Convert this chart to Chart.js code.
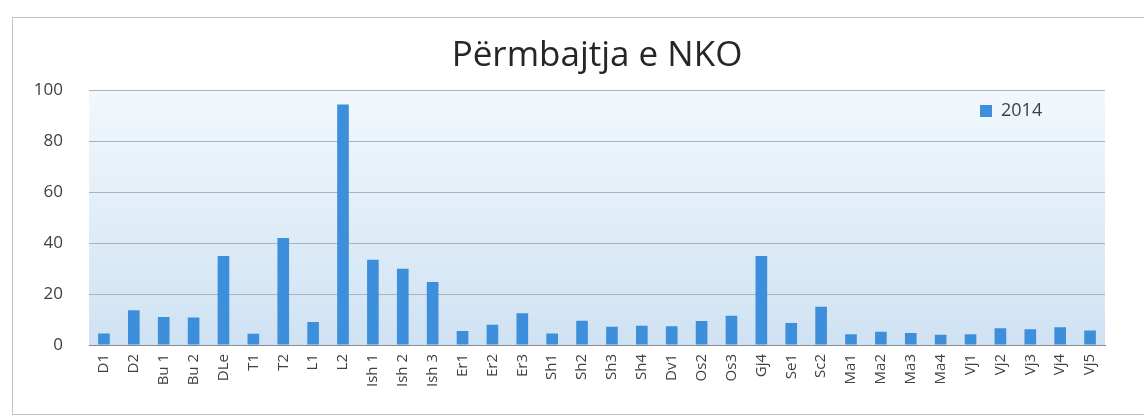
<!DOCTYPE html>
<html>
<head>
<meta charset="utf-8">
<script src="https://cdn.jsdelivr.net/npm/chart.js@4"></script>
<style>
html, body { margin: 0; padding: 0; background: #fff; }
#wrap { position: relative; width: 1144px; height: 419px; }
</style>
</head>
<body>
<div id="wrap"><canvas id="nko" width="1144" height="419"></canvas></div>
<script>
// ---------- DATA ----------
const categories = ['D1','D2','Bu 1','Bu 2','DLe','T1','T2','L1','L2','Ish 1','Ish 2','Ish 3',
  'Er1','Er2','Er3','Sh1','Sh2','Sh3','Sh4','Dv1','Os2','Os3','Gj4','Se1','Sc2',
  'Ma1','Ma2','Ma3','Ma4','Vj1','Vj2','Vj3','Vj4','Vj5'];
const values2014 = [4.5, 13.7, 11, 10.8, 35, 4.4, 42, 9, 94.5, 33.5, 30, 24.8,
  5.5, 8, 12.5, 4.5, 9.5, 7.2, 7.6, 7.4, 9.4, 11.5, 35, 8.6, 15,
  4.2, 5.2, 4.7, 4, 4.2, 6.6, 6.2, 7, 5.7];
const yTicks = [0, 20, 40, 60, 80, 100];
const seriesName = '2014';
const titleText = 'Përmbajtja e NKO';

// ---------- PLUGINS ----------
const frame = {
  id: 'frame',
  beforeDraw(chart) {
    const ctx = chart.ctx;
    const a = chart.chartArea;
    ctx.save();
    ctx.strokeStyle = '#c4c4c4';
    ctx.lineWidth = 1;
    ctx.strokeRect(12.5, 17.5, 1140, 397);
    const g = ctx.createLinearGradient(0, a.top, 0, a.bottom);
    g.addColorStop(0, '#f2f8fd');
    g.addColorStop(1, '#cfe2f3');
    ctx.fillStyle = g;
    ctx.fillRect(a.left, a.top, a.right - a.left, a.bottom - a.top);
    ctx.restore();
  }
};

// legend sits inside the plot, top right
const legendSpot = {
  id: 'legendSpot',
  afterLayout(chart) {
    const lg = chart.legend;
    if (!lg) return;
    const w = lg.width, h = lg.height;
    lg.left = 968; lg.right = 968 + w;
    lg.top = 90; lg.bottom = 90 + h;
  }
};

// ---------- CHART ----------
new Chart(document.getElementById('nko'), {
  type: 'bar',
  data: {
    labels: categories,
    datasets: [{
      label: seriesName,
      data: values2014,
      backgroundColor: '#3d8fdc',
      barPercentage: 0.39,
      categoryPercentage: 1
    }]
  },
  options: {
    responsive: false,
    animation: false,
    layout: { padding: { top: 20, left: 0, right: 39, bottom: 0 } },
    plugins: {
      title: {
        display: true,
        text: titleText,
        fullSize: false,
        color: '#262626',
        font: { family: 'Open Sans', size: 35, weight: 'normal', lineHeight: 1.1 },
        padding: { top: 17, bottom: 15 }
      },
      legend: {
        position: 'chartArea',
        align: 'start',
        labels: {
          color: '#404040',
          font: { family: 'Open Sans', size: 18 },
          boxWidth: 12,
          boxHeight: 12,
          padding: 12
        }
      },
      tooltip: { enabled: false }
    },
    scales: {
      x: {
        grid: { display: false, drawTicks: false },
        border: { display: true, color: '#8c8c8c', width: 1 },
        ticks: {
          color: '#404040',
          font: { family: 'Open Sans', size: 15 },
          minRotation: 90,
          maxRotation: 90,
          autoSkip: false,
          padding: 9
        },
        afterFit(scale) { scale.height = 74; }
      },
      y: {
        min: 0,
        max: 100,
        afterBuildTicks(scale) { scale.ticks = yTicks.map(v => ({ value: v })); },
        grid: { color: '#aab2ba', lineWidth: 1, drawTicks: false },
        border: { display: false },
        ticks: {
          color: '#404040',
          font: { family: 'Open Sans', size: 17 },
          padding: 26
        },
        afterFit(scale) { scale.width = 89; }
      }
    }
  },
  plugins: [frame, legendSpot]
});
</script>
</body>
</html>
